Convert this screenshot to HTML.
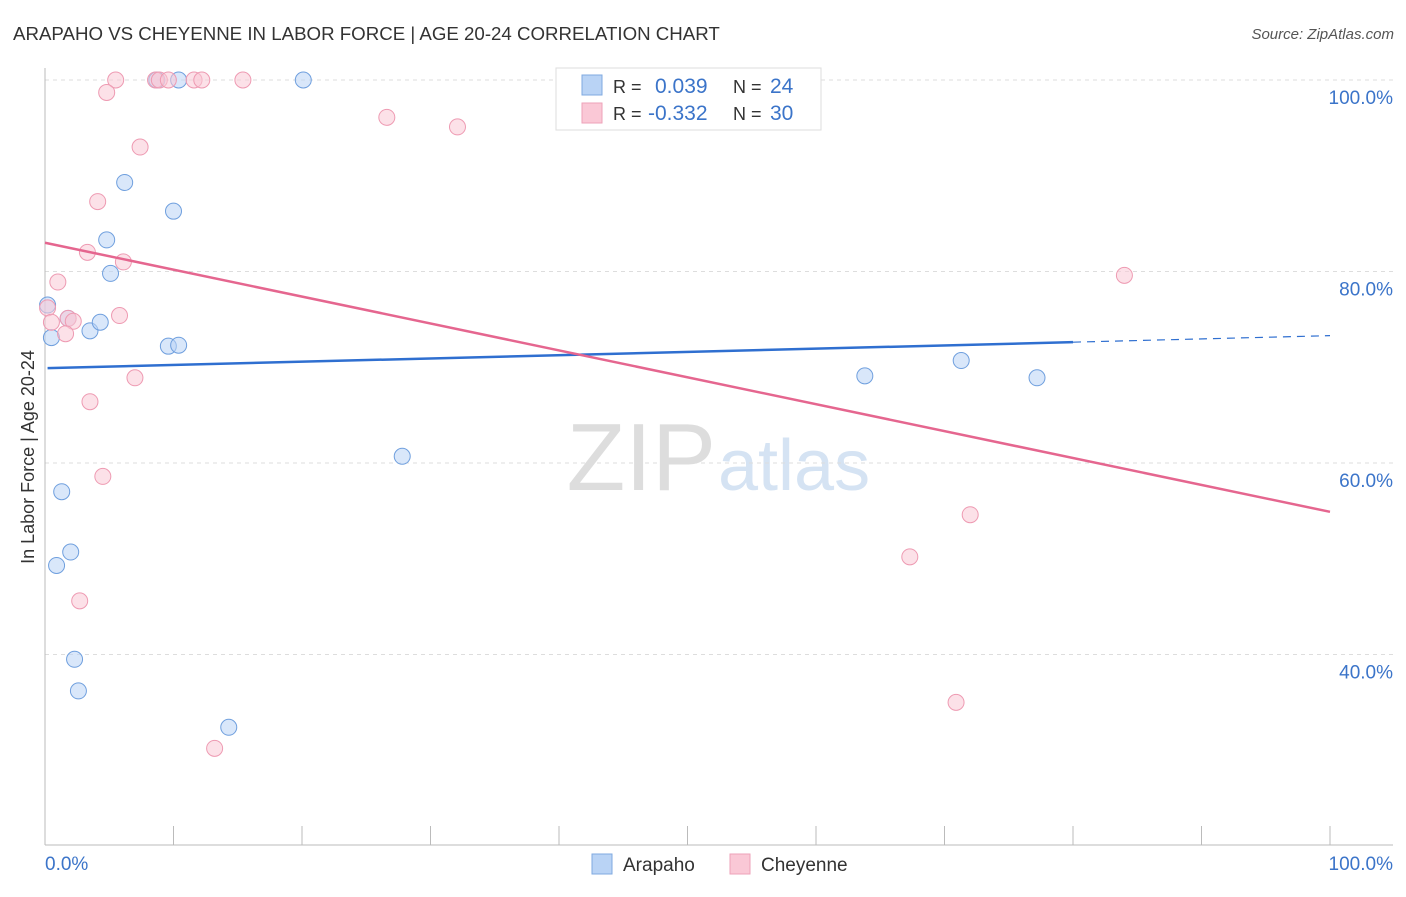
<!DOCTYPE html>
<html><head><meta charset="utf-8"><style>
body{margin:0;background:#fff;font-family:"Liberation Sans",sans-serif;}
svg text{font-family:"Liberation Sans",sans-serif;}
</style></head><body>
<svg width="1406" height="892" xmlns="http://www.w3.org/2000/svg">
<text x="13" y="40" font-size="18.7" fill="#333">ARAPAHO VS CHEYENNE IN LABOR FORCE | AGE 20-24 CORRELATION CHART</text>
<text x="1394" y="39" font-size="15" fill="#555" font-style="italic" text-anchor="end">Source: ZipAtlas.com</text>
<text x="716" y="490" font-size="96" fill="#ddd" text-anchor="end" font-family="Liberation Serif">ZIP</text>
<text x="718" y="490" font-size="72" fill="#d5e3f3">atlas</text>
<g id="grid"></g>
<g id="axes"></g>
<g id="marks"></g>
<text transform="translate(34,457) rotate(-90)" font-size="18" fill="#333" text-anchor="middle">In Labor Force | Age 20-24</text>
<text x="45" y="870" font-size="19" fill="#3b74c9">0.0%</text>
<text x="1393" y="870" font-size="19" fill="#3b74c9" text-anchor="end">100.0%</text>
<g>
<rect x="556" y="68" width="265" height="62" fill="#fff" stroke="#ddd"/>
<rect x="582" y="75" width="20" height="20" fill="#b9d3f5" stroke="#7fa9e0"/>
<rect x="582" y="103" width="20" height="20" fill="#fac8d6" stroke="#eea2b8"/>
<text x="613" y="93" font-size="18" fill="#333">R = </text><text x="655" y="93" font-size="21" fill="#3b74c9">0.039</text>
<text x="733" y="93" font-size="18" fill="#333">N = </text><text x="770" y="93" font-size="21" fill="#3b74c9">24</text>
<text x="613" y="120" font-size="18" fill="#333">R = </text><text x="648" y="120" font-size="21" fill="#3b74c9">-0.332</text>
<text x="733" y="120" font-size="18" fill="#333">N = </text><text x="770" y="120" font-size="21" fill="#3b74c9">30</text>
</g>
<g>
<rect x="592" y="854" width="20" height="20" fill="#b9d3f5" stroke="#7fa9e0"/>
<text x="623" y="871" font-size="19" fill="#333">Arapaho</text>
<rect x="730" y="854" width="20" height="20" fill="#fac8d6" stroke="#eea2b8"/>
<text x="761" y="871" font-size="19" fill="#333">Cheyenne</text>
</g>
</svg>
<script>
const yTicks=[40,60,80,100];
const xTicks=[0,10,20,30,40,50,60,70,80,90,100];
const arapahoX=[20.1,10.4,8.7,6.2,10.0,4.8,5.1,0.2,0.5,1.8,3.5,4.3,9.6,10.4,27.8,1.3,2.0,0.9,2.3,2.6,14.3,63.8,71.3,77.2];
const arapahoY=[100,100,100,89.3,86.3,83.3,79.8,76.5,73.1,75.1,73.8,74.7,72.2,72.3,60.7,57.0,50.7,49.3,39.5,36.2,32.4,69.1,70.7,68.9];
const cheyenneX=[5.5,8.6,8.9,9.6,11.6,12.2,15.4,4.8,26.6,32.1,7.4,4.1,3.3,6.1,1.0,0.2,0.5,1.8,2.2,1.6,5.8,7.0,3.5,4.5,2.7,13.2,84.0,72.0,67.3,70.9];
const cheyenneY=[100,100,100,100,100,100,100,98.7,96.1,95.1,93.0,87.3,82.0,81.0,78.9,76.2,74.7,75.1,74.8,73.5,75.4,68.9,66.4,58.6,45.6,30.2,79.6,54.6,50.2,35.0];
const arapahoTrend=[69.9,73.3];
const arapahoSolidEnd=80;
const cheyenneTrend=[83.0,54.9];
const NS="http://www.w3.org/2000/svg";
const sx=v=>45+v*12.85;
const sy=v=>80+(100-v)*9.575;
function mk(tag,at,parent){const e=document.createElementNS(NS,tag);for(const k in at)e.setAttribute(k,at[k]);document.getElementById(parent).appendChild(e);return e;}
yTicks.forEach(t=>{
 const l=mk('line',{x1:45,x2:1393,y1:sy(t),y2:sy(t),stroke:'#ddd','stroke-dasharray':'4,4'},'grid');
 
 
 const tx=mk('text',{x:1393,y:sy(t)+24,'font-size':19,fill:'#3b74c9','text-anchor':'end'},'grid');
 tx.textContent=t.toFixed(1)+'%';
 
 
});
const ax=mk('line',{x1:45,x2:1393,y1:845,y2:845,stroke:'#bbb'},'axes');


const ay=mk('line',{x1:45,x2:45,y1:68,y2:845,stroke:'#bbb'},'axes');


xTicks.forEach(t=>{
 const l=mk('line',{x1:sx(t),x2:sx(t),y1:826,y2:845,stroke:'#bbb'},'axes');
 
 
});
function pts(xs,ys,fill,stroke,name){
 xs.forEach((x,i)=>{
  const c=mk('circle',{cx:sx(x),cy:sy(ys[i]),r:8,fill:fill,'fill-opacity':0.55,stroke:stroke,'stroke-width':1},'marks');
  
  
 });
}
pts(arapahoX,arapahoY,'#b9d3f5','#6f9fde','arapaho-point');
pts(cheyenneX,cheyenneY,'#fac8d6','#ee9ab2','cheyenne-point');
const ta=v=>arapahoTrend[0]+(arapahoTrend[1]-arapahoTrend[0])*v/100;
let t1=mk('line',{x1:sx(0.2),y1:sy(ta(0.2)),x2:sx(arapahoSolidEnd),y2:sy(ta(arapahoSolidEnd)),stroke:'#2f6fd0','stroke-width':2.5},'marks');


let t2=mk('line',{x1:sx(arapahoSolidEnd),y1:sy(ta(arapahoSolidEnd)),x2:sx(100),y2:sy(ta(100)),stroke:'#2f6fd0','stroke-width':1.2,'stroke-dasharray':'8,6'},'marks');


let t3=mk('line',{x1:sx(0),y1:sy(cheyenneTrend[0]),x2:sx(100),y2:sy(cheyenneTrend[1]),stroke:'#e5668f','stroke-width':2.5},'marks');


</script>
</body></html>
